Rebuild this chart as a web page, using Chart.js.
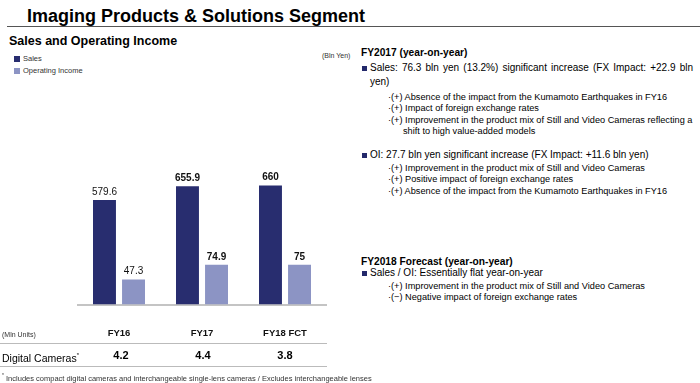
<!DOCTYPE html>
<html>
<head>
<meta charset="utf-8">
<script src="https://cdn.jsdelivr.net/npm/chart.js@4.4.1/dist/chart.umd.min.js"></script>
<style>
	body { margin: 0; width: 700px; height: 383px; background: #fff; overflow: hidden; position: relative;
		font-family: "Liberation Sans", Arial, sans-serif; color: #000; }
	.abs { position: absolute; white-space: nowrap; }
	#title { left: 27px; top: 5px; font-size: 18px; font-weight: bold; line-height: 22px; }
	#titleLine { left: 7px; top: 26px; width: 693px; height: 0; border-top: 1.5px solid #555; }
	#subTitle { left: 9px; top: 34px; font-size: 12.5px; font-weight: bold; line-height: 14px; }
	#unit { left: 322px; top: 51px; font-size: 7px; line-height: 10px; color: #333; }
	.legendItem { left: 14px; font-size: 7.5px; line-height: 10px; color: #333; }
	.legendItem i { display: inline-block; width: 6px; height: 6px; margin-right: 3px; vertical-align: -0.5px; }
	#chartBox { position: absolute; left: 0; top: 70px; width: 340px; height: 292px; }
	.rule { left: 0; width: 327px; height: 0; border-top: 1px solid #bbb; }
	.cell { transform: translateX(-50%); }
	.h2 { font-size: 10.2px; font-weight: bold; line-height: 14px; }
	.main { font-size: 10px; line-height: 14px; }
	.main b { position: absolute; left: -8px; top: 5px; width: 5px; height: 5px; background: #23296b; }
	.sub { font-size: 9.2px; line-height: 11.4px; }
</style>
</head>
<body>
<div id="title" class="abs">Imaging Products &amp; Solutions Segment</div>
<div id="titleLine" class="abs"></div>
<div id="subTitle" class="abs">Sales and Operating Income</div>
<div id="legend"></div>
<div id="unit" class="abs">(Bln Yen)</div>
<div id="chartBox"><canvas id="salesChart"></canvas></div>

<div class="abs" style="left:2px;top:330px;font-size:7px;line-height:10px;color:#333">(Mln Units)</div>
<div class="abs rule" style="top:343px"></div>
<div class="abs" style="left:2px;top:349px;font-size:10.5px;line-height:13px">Digital Cameras<sup style="font-size:6px">*</sup></div>
<div id="unitRow"></div>
<div class="abs rule" style="top:366px"></div>
<div class="abs" style="left:2px;top:371px;font-size:7.5px;line-height:9px;color:#333"><sup style="font-size:5px">*</sup> Includes compact digital cameras and interchangeable single-lens cameras / Excludes interchangeable lenses</div>

<div class="abs h2" style="left:361px;top:46px">FY2017 (year-on-year)</div>
<div class="abs main" style="left:370px;top:61px">
	<b></b><span style="display:inline-block;width:323px;text-align:justify;text-align-last:justify">Sales: 76.3 bln yen (13.2%) significant increase (FX Impact: +22.9 bln</span><br>yen)
</div>
<div class="abs sub" style="left:388px;top:92px">
	·(+) Absence of the impact from the Kumamoto Earthquakes in FY16<br>
	·(+) Impact of foreign exchange rates<br>
	·(+) Improvement in the product mix of Still and Video Cameras reflecting a<br>
	<span style="padding-left:15px">shift to high value-added models</span>
</div>
<div class="abs main" style="left:370px;top:148px"><b></b>OI: 27.7 bln yen significant increase (FX Impact: +11.6 bln yen)</div>
<div class="abs sub" style="left:388px;top:163px">
	·(+) Improvement in the product mix of Still and Video Cameras<br>
	·(+) Positive impact of foreign exchange rates<br>
	·(+) Absence of the impact from the Kumamoto Earthquakes in FY16
</div>
<div class="abs h2" style="left:361px;top:255px">FY2018 Forecast (year-on-year)</div>
<div class="abs main" style="left:370px;top:266px"><b></b>Sales / OI: Essentially flat year-on-year</div>
<div class="abs sub" style="left:388px;top:281px">
	·(+) Improvement in the product mix of Still and Video Cameras<br>
	·(&minus;) Negative impact of foreign exchange rates
</div>

<script>
// chart data
const years = ['FY16', 'FY17', 'FY18 FCT']
const sales = [579.6, 655.9, 660]
const operatingIncome = [47.3, 74.9, 75]
const cameraUnits = [4.2, 4.4, 3.8]
const labelWeights = ['normal', 'bold', 'bold']

const salesColor = '#282d6f'
const oiColor = '#8c94c4'
const fontFamily = '"Liberation Sans", Arial, sans-serif'

//legend
const buildLegend = items => {
	const legend = document.getElementById('legend')
	items.forEach((item, i) => {
		let el = document.createElement('div')
		el.className = 'abs legendItem'
		el.style.top = (54 + i * 12) + 'px'
		el.innerHTML = `<i style="background:${item.color}"></i>${item.name}`
		legend.appendChild(el)
	})
}

//unit table row
const buildUnitRow = () => {
	const row = document.getElementById('unitRow')
	const centers = [121, 203, 285]
	cameraUnits.forEach((v, i) => {
		let el = document.createElement('div')
		el.className = 'abs cell'
		el.style.cssText = `left:${centers[i]}px;top:349px;font-size:11px;font-weight:bold;line-height:13px`
		el.innerText = v.toFixed(1)
		row.appendChild(el)
	})
}

//value labels above the bars
const valueLabels = {
	id: 'valueLabels',
	afterDatasetsDraw(chart) {
		const ctx = chart.ctx
		chart.data.datasets.forEach((ds, i) => {
			chart.getDatasetMeta(i).data.forEach((bar, j) => {
				ctx.save()
				ctx.font = `${labelWeights[j]} 10px ${fontFamily}`
				ctx.fillStyle = '#111'
				ctx.textAlign = 'center'
				ctx.textBaseline = 'bottom'
				ctx.fillText(String(ds.data[j]), bar.x, bar.y - 3)
				ctx.restore()
			})
		})
	}
}

document.addEventListener('DOMContentLoaded', () => {
	buildLegend([{ name: 'Sales', color: salesColor }, { name: 'Operating Income', color: oiColor }])
	buildUnitRow()

	new Chart(document.getElementById('salesChart'), {
		type: 'bar',
		data: {
			labels: years,
			datasets: [{
				label: 'Sales',
				data: sales,
				backgroundColor: salesColor,
				yAxisID: 'y'
			}, {
				label: 'Operating Income',
				data: operatingIncome,
				backgroundColor: oiColor,
				yAxisID: 'y1'
			}]
		},
		options: {
			responsive: true,
			maintainAspectRatio: false,
			animation: false,
			categoryPercentage: 0.7,
			barPercentage: 0.79,
			layout: {
				padding: { left: 77.5, right: 13.5, top: 0, bottom: 0 }
			},
			plugins: {
				legend: { display: false },
				tooltip: { enabled: false }
			},
			scales: {
				x: {
					grid: { display: false, drawTicks: false },
					border: { color: '#c4c4c4', width: 2 },
					ticks: {
						color: '#111',
						padding: 23,
						font: { family: fontFamily, size: 9.5, weight: 'bold' }
					}
				},
				y: { display: false, min: 0, max: 1300 },
				y1: { display: false, min: 0, max: 442 }
			}
		},
		plugins: [valueLabels]
	})
})
</script>
</body>
</html>
